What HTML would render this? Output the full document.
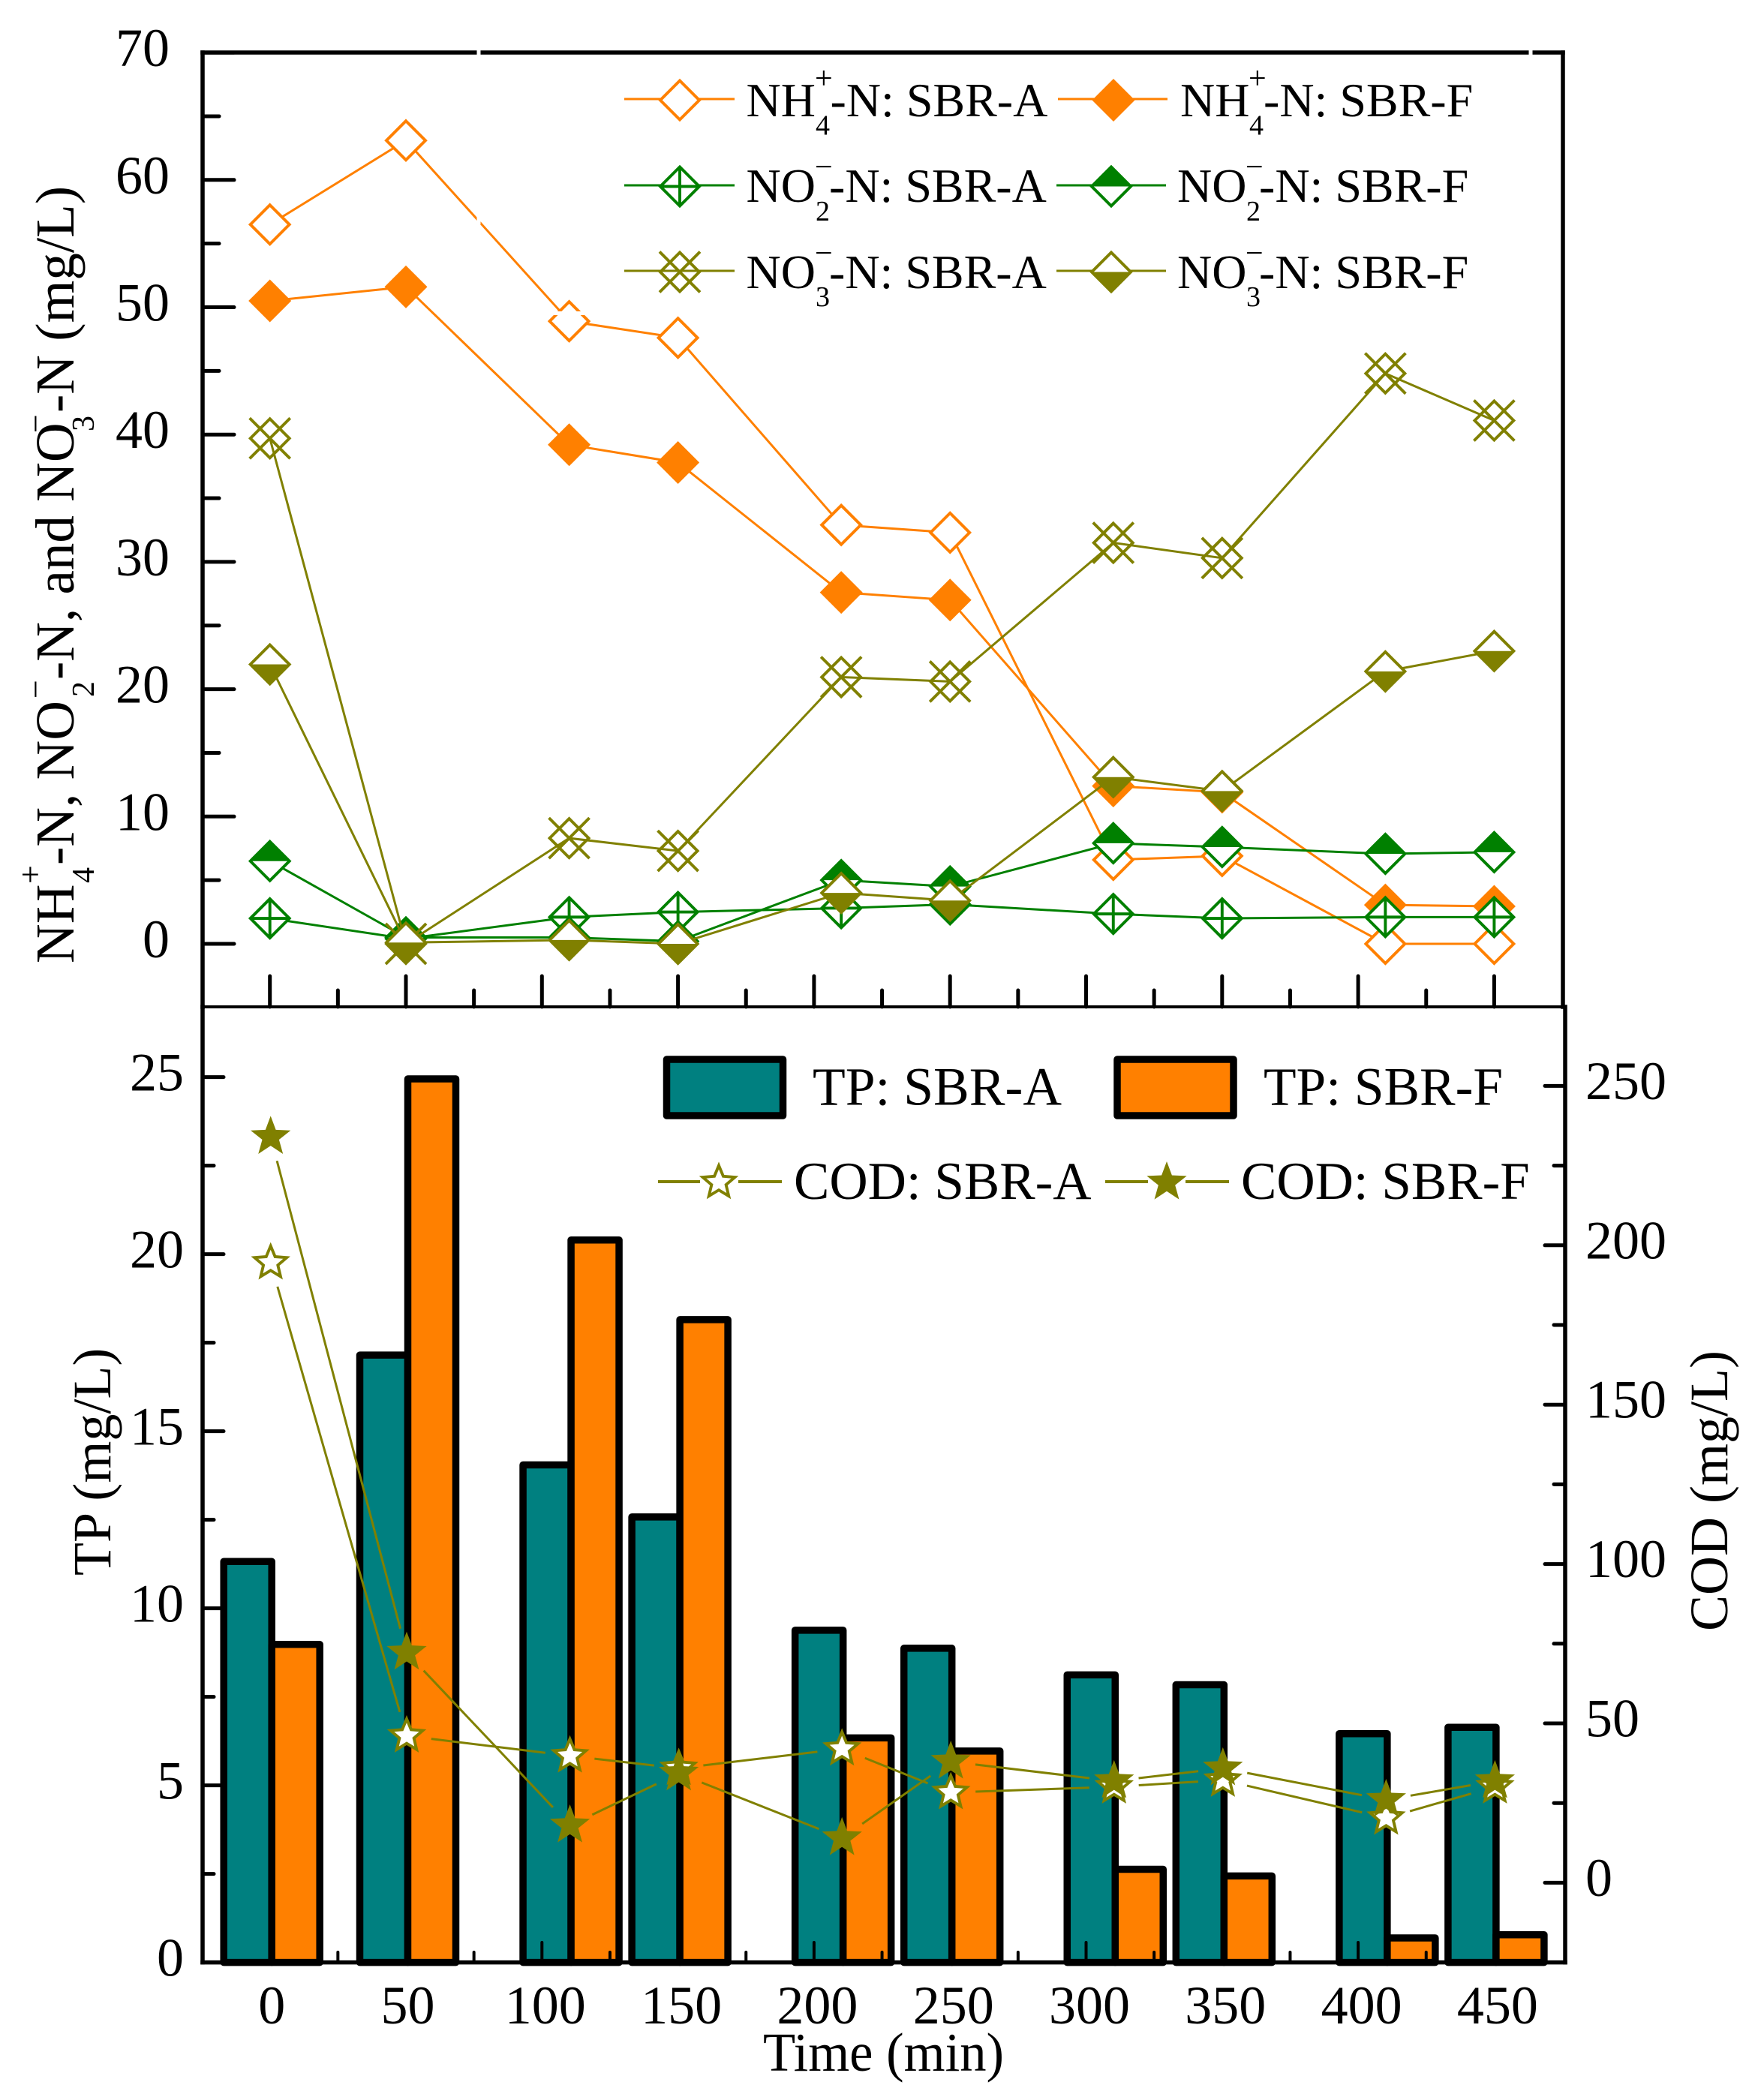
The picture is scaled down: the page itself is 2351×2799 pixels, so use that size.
<!DOCTYPE html>
<html lang="en">
<head>
<meta charset="utf-8">
<title>Nitrogen, TP and COD over time in SBR-A and SBR-F</title>
<style>
  html, body { margin: 0; padding: 0; background: #fff; }
  svg { display: block; }
  text { font-family: "Liberation Serif", "Times New Roman", serif; fill: #000; }
</style>
</head>
<body>
<svg id="chart" xmlns="http://www.w3.org/2000/svg" width="2351" height="2799" viewBox="0 0 2351 2799">
  <rect x="0" y="0" width="2351" height="2799" fill="#fff"/>

  <g id="barLayer"></g>
  <g id="tickLayer"></g>
  <g id="tickLabelLayer" font-size="72"></g>

  <g stroke="#000" fill="none" stroke-linecap="square">
    <line x1="270" y1="70" x2="2083" y2="70" stroke-width="5.5"/>
    <line x1="270" y1="70" x2="270" y2="1342" stroke-width="5.5"/>
    <line x1="2083" y1="70" x2="2083" y2="1342" stroke-width="5.5"/>
    <line x1="270" y1="1342" x2="2086" y2="1342" stroke-width="4"/>
    <line x1="270" y1="1342" x2="270" y2="2615.6" stroke-width="5.5"/>
    <line x1="2086" y1="1342" x2="2086" y2="2615.6" stroke-width="5.5"/>
    <line x1="270" y1="2615.6" x2="2086" y2="2615.6" stroke-width="5.5"/>
  </g>

  <g id="seriesLayer"></g>
  <g id="codLayer"></g>

  <g fill="#fff">
    <rect x="635.5" y="64" width="5" height="12"/>
    <rect x="2037.5" y="64" width="5" height="12"/>
    <rect x="635.5" y="284" width="5" height="15"/>
    <rect x="726" y="415" width="66" height="5"/>
  </g>

  <!-- Axis titles -->
  <text transform="translate(98,1284) rotate(-90)" font-size="73"><tspan x="0" y="0">NH</tspan><tspan x="106" y="-43" font-size="44">+</tspan><tspan x="107" y="27" font-size="42">4</tspan><tspan x="131" y="0">-N, NO</tspan><tspan x="353" y="-36" font-size="44">−</tspan><tspan x="355" y="27" font-size="42">2</tspan><tspan x="378" y="0">-N, and NO</tspan><tspan x="707" y="-36" font-size="44">−</tspan><tspan x="709" y="27" font-size="42">3</tspan><tspan x="734" y="0">-N (mg/L)</tspan></text>
  <text transform="translate(147,2100) rotate(-90)" font-size="72">TP (mg/L)</text>
  <text transform="translate(2302,2174) rotate(-90)" font-size="72">COD (mg/L)</text>
  <text x="1017" y="2760" font-size="73" textLength="321" lengthAdjust="spacingAndGlyphs">Time (min)</text>

  <!-- Top legend -->
  <g id="topLegend" font-size="64">
    <line x1="832" y1="132" x2="979" y2="132" stroke="#ff8000" stroke-width="3"/>
    <line x1="1410" y1="132" x2="1556" y2="132" stroke="#ff8000" stroke-width="3"/>
    <line x1="832" y1="247" x2="979" y2="247" stroke="#008000" stroke-width="3"/>
    <line x1="1408" y1="247" x2="1554" y2="247" stroke="#008000" stroke-width="3"/>
    <line x1="832" y1="361" x2="979" y2="361" stroke="#808000" stroke-width="3"/>
    <line x1="1408" y1="361" x2="1554" y2="361" stroke="#808000" stroke-width="3"/>

    <text><tspan x="994.5" y="155">NH</tspan><tspan x="1086" y="118" font-size="42">+</tspan><tspan x="1087" y="179.5" font-size="38">4</tspan><tspan x="1106.5" y="155">-N: SBR-A</tspan></text>
    <text><tspan x="1573" y="155">NH</tspan><tspan x="1664" y="118" font-size="42">+</tspan><tspan x="1665" y="179.5" font-size="38">4</tspan><tspan x="1684" y="155">-N: SBR-F</tspan></text>
    <text><tspan x="994.5" y="269">NO</tspan><tspan x="1086" y="236" font-size="42">−</tspan><tspan x="1087" y="294" font-size="38">2</tspan><tspan x="1105" y="269">-N: SBR-A</tspan></text>
    <text><tspan x="1569" y="269">NO</tspan><tspan x="1660" y="236" font-size="42">−</tspan><tspan x="1661" y="294" font-size="38">2</tspan><tspan x="1678" y="269">-N: SBR-F</tspan></text>
    <text><tspan x="994.5" y="384">NO</tspan><tspan x="1086" y="351" font-size="42">−</tspan><tspan x="1087" y="408" font-size="38">3</tspan><tspan x="1105" y="384">-N: SBR-A</tspan></text>
    <text><tspan x="1569" y="384">NO</tspan><tspan x="1660" y="351" font-size="42">−</tspan><tspan x="1661" y="408" font-size="38">3</tspan><tspan x="1678" y="384">-N: SBR-F</tspan></text>
  </g>

  <!-- Bottom legend -->
  <g id="bottomLegend" font-size="72">
    <rect x="888.5" y="1412" width="155" height="75" fill="#008080" stroke="#000" stroke-width="9.5" stroke-linejoin="round"/>
    <text x="1083" y="1472.5" textLength="332" lengthAdjust="spacingAndGlyphs">TP: SBR-A</text>
    <rect x="1489" y="1412" width="155" height="75" fill="#ff8000" stroke="#000" stroke-width="9.5" stroke-linejoin="round"/>
    <text x="1684" y="1472.5" textLength="319" lengthAdjust="spacingAndGlyphs">TP: SBR-F</text>

    <line x1="877" y1="1575" x2="933" y2="1575" stroke="#808000" stroke-width="4"/>
    <line x1="984" y1="1575" x2="1042" y2="1575" stroke="#808000" stroke-width="4"/>
    <text x="1058" y="1598" font-size="71">COD: SBR-A</text>
    <line x1="1473" y1="1575" x2="1530" y2="1575" stroke="#808000" stroke-width="4"/>
    <line x1="1580" y1="1575" x2="1638" y2="1575" stroke="#808000" stroke-width="4"/>
    <text x="1654" y="1598" font-size="71">COD: SBR-F</text>
  </g>
</svg>

<script>
// ---- Chart data ----
const sampleTimes = [0, 50, 110, 150, 210, 250, 310, 350, 410, 450];
const nh4SbrA = [56.5, 63.1, 48.9, 47.6, 32.9, 32.3, 6.6, 6.9, 0, 0];
const nh4SbrF = [50.5, 51.6, 39.2, 37.8, 27.6, 27.0, 12.4, 11.9, 3.06, 2.95];
const no2SbrA = [2.0, 0.4, 2.1, 2.5, 2.8, 3.1, 2.35, 2.0, 2.1, 2.1];
const no2SbrF = [6.5, 0.5, 0.5, 0.2, 5.0, 4.5, 7.9, 7.6, 7.07, 7.2];
const no3SbrA = [39.7, 0, 8.3, 7.3, 20.95, 20.6, 31.5, 30.3, 44.8, 41.1];
const no3SbrF = [21.95, 0.1, 0.3, 0, 4.0, 3.4, 13.1, 12.0, 21.4, 23.0];
const tpSbrA = [11.32, 17.15, 14.05, 12.58, 9.38, 8.87, 8.12, 7.84, 6.46, 6.64];
const tpSbrF = [8.98, 24.95, 20.4, 18.15, 6.34, 5.97, 2.63, 2.44, 0.69, 0.78];
const codSbrA = [194.5, 46.1, 39.8, 35.9, 42, 28.3, 30.1, 32.2, 20.3, 30.1];
const codSbrF = [234, 72.2, 18, 34.3, 14, 38, 31.9, 35.9, 26, 31.9];
const xTickLabels = [0, 50, 100, 150, 200, 250, 300, 350, 400, 450];
const nitrogenTickLabels = [0, 10, 20, 30, 40, 50, 60, 70];
const tpTickLabels = [0, 5, 10, 15, 20, 25];
const codTickLabels = [0, 50, 100, 150, 200, 250];

// ---- Axis functions ----
function xAxis(t) { return 359.7 + 3.626 * t; }
function yNitrogen(v) { return 1258 - 16.97 * v; }
function yTp(v) { return 2615.6 - 47.2 * v; }
function yCod(v) { return 2509.4 - 4.248 * v; }

const SVGNS = 'http://www.w3.org/2000/svg';
const ORANGE = '#ff8000', GREEN = '#008000', OLIVE = '#808000', TEAL = '#008080';
const DIAMOND = 26, STAR_OUT = 28;

function shape(parent, tag, props) {
  const el = document.createElementNS(SVGNS, tag);
  for (const k in props) el.setAttribute(k, props[k]);
  parent.appendChild(el);
  return el;
}
function group(parent) {
  return shape(parent, 'g', {});
}
function diamondPts(cx, cy, h) {
  return (cx) + ',' + (cy - h) + ' ' + (cx + h) + ',' + cy + ' ' + cx + ',' + (cy + h) + ' ' + (cx - h) + ',' + cy;
}

// Diamond markers in their six styles
function diamondMarker(parent, kind, color, cx, cy, label) {
  const g = group(parent);
  
  
  const sw = 3.9;
  if (kind === 'open') {
    shape(g, 'polygon', { points: diamondPts(cx, cy, DIAMOND), fill: '#fff', stroke: color, 'stroke-width': sw });
  } else if (kind === 'solid') {
    shape(g, 'polygon', { points: diamondPts(cx, cy, DIAMOND + 2.5), fill: color });
  } else if (kind === 'plus') {
    shape(g, 'polygon', { points: diamondPts(cx, cy, DIAMOND), fill: '#fff', stroke: color, 'stroke-width': sw });
    shape(g, 'line', { x1: cx - DIAMOND, y1: cy, x2: cx + DIAMOND, y2: cy, stroke: color, 'stroke-width': sw });
    shape(g, 'line', { x1: cx, y1: cy - DIAMOND, x2: cx, y2: cy + DIAMOND, stroke: color, 'stroke-width': sw });
  } else if (kind === 'cross') {
    shape(g, 'polygon', { points: diamondPts(cx, cy, DIAMOND), fill: 'none', stroke: color, 'stroke-width': sw });
    shape(g, 'line', { x1: cx - 27, y1: cy - 27, x2: cx + 27, y2: cy + 27, stroke: color, 'stroke-width': sw });
    shape(g, 'line', { x1: cx - 27, y1: cy + 27, x2: cx + 27, y2: cy - 27, stroke: color, 'stroke-width': sw });
  } else if (kind === 'topFill') {
    shape(g, 'polygon', { points: diamondPts(cx, cy, DIAMOND), fill: '#fff', stroke: color, 'stroke-width': sw });
    shape(g, 'polygon', { points: (cx - DIAMOND - 2.5) + ',' + cy + ' ' + cx + ',' + (cy - DIAMOND - 2.5) + ' ' + (cx + DIAMOND + 2.5) + ',' + cy, fill: color });
  } else if (kind === 'bottomFill') {
    shape(g, 'polygon', { points: diamondPts(cx, cy, DIAMOND), fill: '#fff', stroke: color, 'stroke-width': sw });
    shape(g, 'polygon', { points: (cx - DIAMOND - 2.5) + ',' + cy + ' ' + cx + ',' + (cy + DIAMOND + 2.5) + ' ' + (cx + DIAMOND + 2.5) + ',' + cy, fill: color });
  }
  return g;
}

function starPts(cx, cy, R, ratio) {
  const r = R * ratio;
  const pts = [];
  for (let i = 0; i < 10; i++) {
    const a = -Math.PI / 2 + i * Math.PI / 5;
    const rad = i % 2 ? r : R;
    pts.push((cx + rad * Math.cos(a)).toFixed(2) + ',' + (cy + rad * Math.sin(a)).toFixed(2));
  }
  return pts.join(' ');
}
function starMarker(parent, filled, cx, cy, label) {
  let el;
  if (filled) {
    el = shape(parent, 'polygon', { points: starPts(cx, cy, STAR_OUT, 0.42), fill: OLIVE });
  } else {
    el = shape(parent, 'polygon', { points: starPts(cx, cy, 22.5, 0.45), fill: '#fff', stroke: OLIVE, 'stroke-width': 3.9, 'stroke-miterlimit': 10 });
  }
  
  
  return el;
}

// ---- Ticks ----
const tickLayer = document.getElementById('tickLayer');
const tickLabelLayer = document.getElementById('tickLabelLayer');

function drawTick(x1, y1, x2, y2, width, label) {
  const t = shape(tickLayer, 'line', { x1: x1, y1: y1, x2: x2, y2: y2, stroke: '#000', 'stroke-width': width, 'stroke-linecap': 'round' });
  
  
}
function drawLabel(x, y, anchor, str, label) {
  const t = shape(tickLabelLayer, 'text', { x: x, y: y, 'text-anchor': anchor });
  t.textContent = String(str);
  
  
}

// X ticks (shared between both panels)
xTickLabels.forEach(function (v, i) {
  drawTick(xAxis(v), 1342, xAxis(v), 1301, 5, 'top-x-major-tick');
  drawTick(xAxis(v), 2615, xAxis(v), 2589, 4, 'bottom-x-major-tick');
  if (i < xTickLabels.length - 1) {
    const mid = (v + xTickLabels[i + 1]) / 2;
    drawTick(xAxis(mid), 1342, xAxis(mid), 1320, 5, 'top-x-minor-tick');
    drawTick(xAxis(mid), 2615, xAxis(mid), 2602, 4, 'bottom-x-minor-tick');
  }
  drawLabel(xAxis(v) + (v >= 100 ? 4.5 : 2.5), 2697, 'middle', v, 'x-tick-label');
});

// Nitrogen axis (left, top panel)
nitrogenTickLabels.forEach(function (v, i) {
  drawTick(270, yNitrogen(v), 312, yNitrogen(v), 5, 'nitrogen-major-tick');
  if (i < nitrogenTickLabels.length - 1) {
    const mid = (v + nitrogenTickLabels[i + 1]) / 2;
    drawTick(270, yNitrogen(mid), 292, yNitrogen(mid), 5, 'nitrogen-minor-tick');
  }
  drawLabel(226, yNitrogen(v) + 18, 'end', v, 'nitrogen-tick-label');
});

// TP axis (left, bottom panel)
tpTickLabels.forEach(function (v, i) {
  drawTick(270, yTp(v), 298, yTp(v), 5, 'tp-major-tick');
  if (i < tpTickLabels.length - 1) {
    const mid = (v + tpTickLabels[i + 1]) / 2;
    drawTick(270, yTp(mid), 285, yTp(mid), 5, 'tp-minor-tick');
  }
  drawLabel(245, yTp(v) + 18, 'end', v, 'tp-tick-label');
});

// COD axis (right, bottom panel)
codTickLabels.forEach(function (v, i) {
  drawTick(2086, yCod(v), 2059, yCod(v), 5, 'cod-major-tick');
  if (i < codTickLabels.length - 1) {
    const mid = (v + codTickLabels[i + 1]) / 2;
    drawTick(2086, yCod(mid), 2071, yCod(mid), 5, 'cod-minor-tick');
  }
  drawLabel(2113, yCod(v) + 17.5, 'start', v, 'cod-tick-label');
});

// ---- TP bars ----
const barLayer = document.getElementById('barLayer');
const BAR_W = 64, BAR_OFFSET = 2.5;
function drawBar(time, value, side, color, label) {
  const cx = xAxis(time) + BAR_OFFSET;
  const left = side < 0 ? cx - BAR_W : cx;
  const top = yTp(value);
  const b = shape(barLayer, 'rect', {
    x: left, y: top, width: BAR_W, height: yTp(0) - top,
    fill: color, stroke: '#000', 'stroke-width': 9.5, 'stroke-linejoin': 'round'
  });
  
  
}
sampleTimes.forEach(function (t, i) {
  drawBar(t, tpSbrA[i], -1, TEAL, 'bar-tp-sbr-a');
});
sampleTimes.forEach(function (t, i) {
  drawBar(t, tpSbrF[i], 1, ORANGE, 'bar-tp-sbr-f');
});

// ---- Nitrogen series ----
const seriesLayer = document.getElementById('seriesLayer');
function drawNitrogen(values, color, kind, label) {
  const g = group(seriesLayer);
  
  
  const pts = values.map(function (v, i) { return xAxis(sampleTimes[i]).toFixed(2) + ',' + yNitrogen(v).toFixed(2); }).join(' ');
  const line = shape(g, 'polyline', { points: pts, fill: 'none', stroke: color, 'stroke-width': 3, 'stroke-linejoin': 'round' });
  
  
  values.forEach(function (v, i) {
    diamondMarker(g, kind, color, xAxis(sampleTimes[i]), yNitrogen(v), 'point-' + label);
  });
}
drawNitrogen(nh4SbrA, ORANGE, 'open', 'nh4-sbr-a');
drawNitrogen(nh4SbrF, ORANGE, 'solid', 'nh4-sbr-f');
drawNitrogen(no2SbrA, GREEN, 'plus', 'no2-sbr-a');
drawNitrogen(no2SbrF, GREEN, 'topFill', 'no2-sbr-f');
drawNitrogen(no3SbrA, OLIVE, 'cross', 'no3-sbr-a');
drawNitrogen(no3SbrF, OLIVE, 'bottomFill', 'no3-sbr-f');

// ---- COD series (line segments stop short of each star) ----
const codLayer = document.getElementById('codLayer');
const STAR_GAP = 33;
function drawCod(values, filled, label) {
  const g = group(codLayer);
  
  
  for (let i = 0; i < values.length - 1; i++) {
    const x1 = xAxis(sampleTimes[i]) + 1, y1 = yCod(values[i]);
    const x2 = xAxis(sampleTimes[i + 1]) + 1, y2 = yCod(values[i + 1]);
    const d = Math.hypot(x2 - x1, y2 - y1);
    const ux = (x2 - x1) / d, uy = (y2 - y1) / d;
    const seg = shape(g, 'line', {
      x1: x1 + ux * STAR_GAP, y1: y1 + uy * STAR_GAP,
      x2: x2 - ux * STAR_GAP, y2: y2 - uy * STAR_GAP,
      stroke: OLIVE, 'stroke-width': 3
    });
    
    
  }
  values.forEach(function (v, i) {
    starMarker(g, filled, xAxis(sampleTimes[i]) + 1, yCod(v), 'point-' + label);
  });
}
drawCod(codSbrA, false, 'cod-sbr-a');
drawCod(codSbrF, true, 'cod-sbr-f');

// ---- Legend markers ----
const topLegend = document.getElementById('topLegend');
diamondMarker(topLegend, 'open', ORANGE, 906, 133.5, 'legend-marker-nh4-a');
diamondMarker(topLegend, 'solid', ORANGE, 1484, 133.5, 'legend-marker-nh4-f');
diamondMarker(topLegend, 'plus', GREEN, 906, 248.5, 'legend-marker-no2-a');
diamondMarker(topLegend, 'topFill', GREEN, 1481, 248.5, 'legend-marker-no2-f');
diamondMarker(topLegend, 'cross', OLIVE, 906, 362.5, 'legend-marker-no3-a');
diamondMarker(topLegend, 'bottomFill', OLIVE, 1481, 362.5, 'legend-marker-no3-f');

const bottomLegend = document.getElementById('bottomLegend');
starMarker(bottomLegend, false, 958, 1576, 'legend-marker-cod-a');
starMarker(bottomLegend, true, 1555, 1576, 'legend-marker-cod-f');
</script>
</body>
</html>
